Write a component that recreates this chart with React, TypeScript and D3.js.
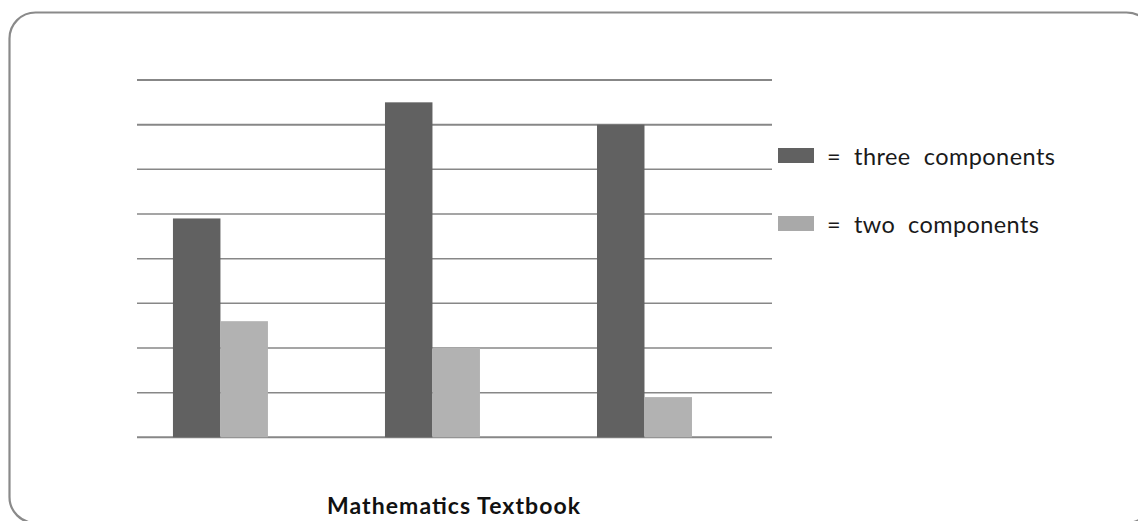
import React, { useEffect } from "react";
import * as d3 from "d3";

const categories = ["Textbook A", "Textbook B", "Textbook C"];
const threeComponents = [4.9, 7.5, 7.0];
const twoComponents = [2.6, 2.0, 0.9];
const seriesKeys = ["three", "two"];
const seriesLabels = ["=  three  components", "=  two  components"];
const seriesColors = ["#616161", "#b2b2b2"];
const legendSwatch = ["#616161", "#a9a9a9"];
const gridTicks = [0, 1, 2, 3, 4, 5, 6, 7, 8];
const axisTitle = "Mathematics Textbook";

const W = 1138;
const H = 521;
const plot = { left: 137, right: 772, top: 80, bottom: 437.3 };

export default function App() {
  useEffect(() => {
    document.body.style.margin = "0";
  }, []);

  const y = d3.scaleLinear().domain([0, 8]).range([plot.bottom, plot.top]);
  const x0 = d3
    .scaleBand<string>()
    .domain(categories)
    .range([plot.left, plot.right])
    .paddingInner(0.552)
    .paddingOuter(0.2735)
    .align(0.31);
  const x1 = d3.scaleBand<string>().domain(seriesKeys).range([0, x0.bandwidth()]);

  const rows = categories.map((c, i) => ({
    cat: c,
    values: [threeComponents[i], twoComponents[i]],
  }));

  const font = "Lato, 'Open Sans', sans-serif";
  const legendWidths = [228, 212];

  return (
    <svg width={W} height={H} style={{ display: "block", background: "#fff" }}>
      <rect x={9.5} y={12.5} width={1143} height={510.5} rx={26} ry={26} fill="none" stroke="#8a8a8a" strokeWidth={2.2} />
      {gridTicks.map((t) => (
        <line
          key={t}
          x1={plot.left}
          x2={plot.right}
          y1={y(t)}
          y2={y(t)}
          stroke="#878787"
          strokeWidth={t === 8 || t === 7 || t === 0 ? 2 : 1.5}
        />
      ))}
      {rows.map((r) => (
        <g key={r.cat} transform={`translate(${x0(r.cat)},0)`}>
          {r.values.map((v, j) => (
            <rect
              key={seriesKeys[j]}
              x={x1(seriesKeys[j])}
              y={y(v)}
              width={x1.bandwidth()}
              height={y(0) - y(v)}
              fill={seriesColors[j]}
            />
          ))}
        </g>
      ))}
      {seriesLabels.map((label, i) => (
        <g key={label} transform={`translate(778,${148 + i * 68})`}>
          <rect x={0} y={0} width={36} height={15} fill={legendSwatch[i]} />
          <text
            x={49}
            y={17}
            fontFamily={font}
            fontSize={23.5}
            fill="#1a1a1a"
            textLength={legendWidths[i]}
            lengthAdjust="spacing"
            style={{ whiteSpace: "pre" }}
          >
            {label}
          </text>
        </g>
      ))}
      <text
        x={327}
        y={514}
        fontFamily={font}
        fontWeight="bold"
        fontSize={23}
        fill="#111"
        textLength={253}
        lengthAdjust="spacing"
      >
        {axisTitle}
      </text>
    </svg>
  );
}
